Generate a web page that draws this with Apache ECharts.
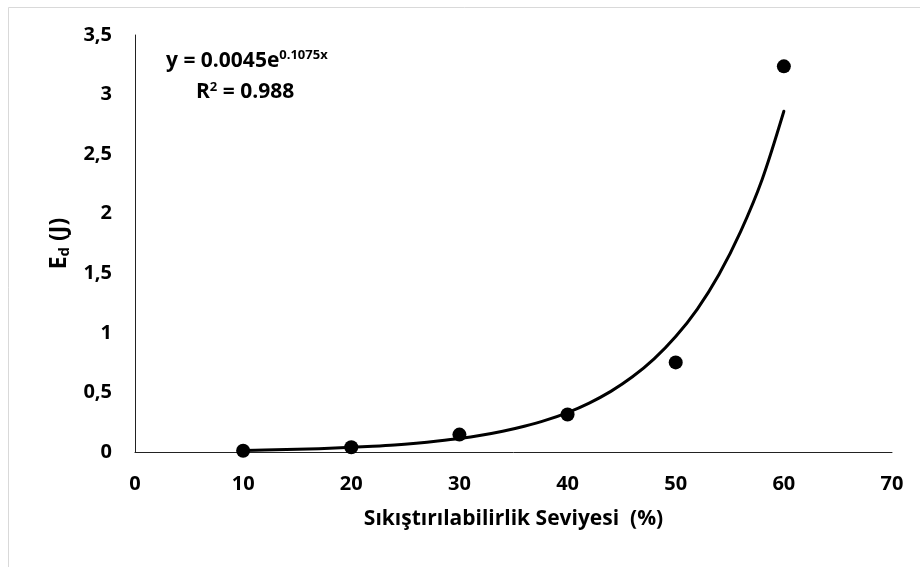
<!DOCTYPE html>
<html>
<head>
<meta charset="utf-8">
<script src="https://cdn.jsdelivr.net/npm/echarts@6/dist/echarts.min.js"></script>
<style>html,body{margin:0;padding:0;background:#fff}#c{width:920px;height:567px}</style>
</head>
<body>
<div id="c"></div>
<script>
// Measured points
const xValues = [10, 20, 30, 40, 50, 60];
const edValues = [0.01, 0.04, 0.146, 0.315, 0.752, 3.237];
// Trendline
const trendX = [10, 12, 14, 16, 18, 20, 22, 24, 26, 28, 30, 32, 34, 36, 38, 40, 42, 44, 46, 48, 50, 52, 54, 56, 58, 60];
const trendY = [0.013, 0.016, 0.020, 0.025, 0.031, 0.039, 0.048, 0.059, 0.074, 0.092, 0.113, 0.140, 0.174, 0.216, 0.267, 0.331, 0.411, 0.509, 0.631, 0.782, 0.969, 1.20, 1.49, 1.85, 2.29, 2.86];
const xTicks = [0, 10, 20, 30, 40, 50, 60, 70];
const yTicks = [0, 0.5, 1, 1.5, 2, 2.5, 3, 3.5];
const xTitle = 'Sıkıştırılabilirlik Seviyesi  (%)';
const equation = 'y = 0.0045e';
const exponent = '0.1075x';
const rSquared = '0.988';

const FONT = '"Open Sans", "Liberation Sans", sans-serif';
const chart = echarts.init(document.getElementById('c'), null, {renderer: 'canvas'});
chart.setOption({
  animation: false,
  backgroundColor: '#fff',
  grid: {left: 135, right: 28, top: 35, bottom: 115, containLabel: false},
  xAxis: {
    type: 'value', min: 0, max: 70, interval: 10,
    axisLine: {show: true, onZero: false, lineStyle: {color: '#222', width: 1}},
    axisTick: {show: false}, splitLine: {show: false},
    axisLabel: {color: '#000', fontFamily: FONT, fontWeight: 'bold', fontSize: 20, margin: 22},
    name: xTitle, nameLocation: 'middle', nameGap: 57,
    nameTextStyle: {color: '#000', fontFamily: FONT, fontWeight: 'bold', fontSize: 21, verticalAlign: 'top'}
  },
  yAxis: {
    type: 'value', min: 0, max: 3.5, interval: 0.5,
    axisLine: {show: true, lineStyle: {color: '#222', width: 1}},
    axisTick: {show: false}, splitLine: {show: false},
    axisLabel: {color: '#000', fontFamily: FONT, fontWeight: 'bold', fontSize: 20, margin: 23,
      formatter: v => String(v).replace('.', ',')},
    name: '{m|E}{s|d}{m| (J)}', nameLocation: 'middle', nameGap: 61, nameRotate: 90,
    nameTextStyle: {rich: {
      m: {color: '#000', fontFamily: FONT, fontWeight: 'bold', fontSize: 23},
      s: {color: '#000', fontFamily: FONT, fontWeight: 'bold', fontSize: 15, padding: [11, 0, 0, 0]}
    }}
  },
  series: [
    {
      type: 'line', data: trendX.map((x, i) => [x, trendY[i]]),
      smooth: 0.3, showSymbol: false, symbol: 'none',
      lineStyle: {color: '#000', width: 3, join: 'round', cap: 'round'}, z: 2
    },
    {
      type: 'scatter', data: xValues.map((x, i) => [x, edValues[i]]),
      symbol: 'circle', symbolSize: 14, itemStyle: {color: '#000', opacity: 1}, z: 3
    }
  ],
  graphic: [
    {type: 'rect', shape: {x: 8.5, y: 7.5, width: 1000, height: 1000},
      style: {fill: 'none', stroke: '#d9d9d9', lineWidth: 1}, silent: true},
    {type: 'text', left: 166, top: 49, style: {
      text: '{m|' + equation + '}{s|' + exponent + '}',
      rich: {
        m: {fill: '#000', fontFamily: FONT, fontWeight: 'bold', fontSize: 21},
        s: {fill: '#000', fontFamily: FONT, fontWeight: 'bold', fontSize: 13, padding: [0, 0, 11, 0]}
      }}},
    {type: 'text', left: 196, top: 81, style: {
      text: '{m|R}{s|2}{m| = ' + rSquared + '}',
      rich: {
        m: {fill: '#000', fontFamily: FONT, fontWeight: 'bold', fontSize: 21},
        s: {fill: '#000', fontFamily: FONT, fontWeight: 'bold', fontSize: 13, padding: [0, 0, 10, 0]}
      }}}
  ]
});
</script>
</body>
</html>
